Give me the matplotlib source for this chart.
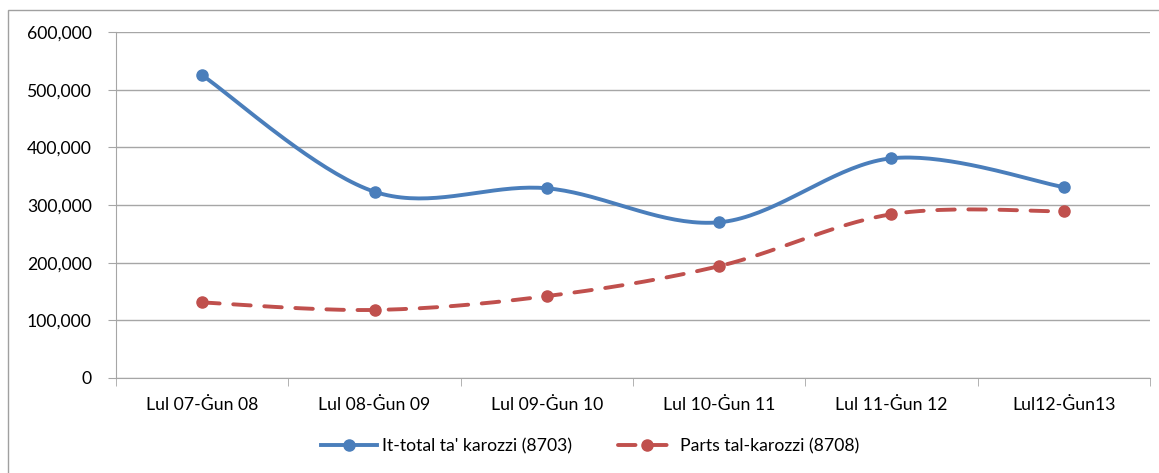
import numpy as np
import matplotlib
matplotlib.use("Agg")
import matplotlib.pyplot as plt
from matplotlib.patches import Rectangle
from matplotlib.ticker import FuncFormatter

plt.rcParams["font.family"] = ["Lato", "DejaVu Sans"]

periods = ["Lul 07-Ġun 08", "Lul 08-Ġun 09", "Lul 09-Ġun 10",
           "Lul 10-Ġun 11", "Lul 11-Ġun 12", "Lul12-Ġun13"]
total_cars = [525000, 323000, 329000, 270000, 381000, 331000]
car_parts = [131000, 118000, 142000, 194000, 284000, 289000]

label_total = "It-total ta' karozzi (8703)"
label_parts = "Parts tal-karozzi (8708)"

BLUE = "#4a7ebb"
RED = "#c0504d"
GRID = "#a6a6a6"


def smooth(xs, ys, n=40):
    # Catmull-Rom style bezier, like Excel's smoothed line
    p = np.column_stack([xs, ys]).astype(float)
    pts = [p[0]]
    for i in range(len(p) - 1):
        p0 = p[i - 1] if i > 0 else p[i]
        p1, p2 = p[i], p[i + 1]
        p3 = p[i + 2] if i + 2 < len(p) else p[i + 1]
        c1 = p1 + (p2 - p0) / 6.0
        c2 = p2 - (p3 - p1) / 6.0
        t = np.linspace(0, 1, n)[1:, None]
        seg = ((1 - t) ** 3) * p1 + 3 * ((1 - t) ** 2) * t * c1 \
            + 3 * (1 - t) * t ** 2 * c2 + t ** 3 * p2
        pts.extend(seg)
    pts = np.array(pts)
    return pts[:, 0], pts[:, 1]


fig = plt.figure(figsize=(11.59, 4.73), dpi=100)
fig.patches.append(Rectangle((8 / 1159, -0.1), 1.2, 1 - 10 / 473 + 0.1,
                             transform=fig.transFigure, fill=False,
                             edgecolor="#a0a0a0", lw=1.0))
ax = fig.add_axes([116 / 1159, 1 - 378 / 473, 1034 / 1159, 346 / 473])

x = np.arange(len(periods))

sx, sy = smooth(x, total_cars)
ax.plot(sx, sy, color=BLUE, lw=2.8, solid_capstyle="round", zorder=3)
ax.plot(x, total_cars, "o", color=BLUE, ms=8, zorder=4)

sx, sy = smooth(x, car_parts)
ax.plot(sx, sy, color=RED, lw=2.8, dashes=(4.5, 3.5),
        dash_capstyle="round", zorder=3)
ax.plot(x, car_parts, "o", color=RED, ms=8, zorder=4)

# legend handles
ax.plot([], [], color=BLUE, lw=2.8, marker="o", ms=8, label=label_total)
ax.plot([], [], color=RED, lw=2.8, marker="o", ms=8, dashes=(4.5, 3.5),
        dash_capstyle="round", label=label_parts)

ax.set_xlim(-0.5, len(periods) - 0.5)
ax.set_ylim(0, 600000)
ax.set_yticks(np.arange(0, 600001, 100000))
ax.yaxis.set_major_formatter(FuncFormatter(lambda v, _: f"{int(v):,}"))
ax.set_xticks(x)
ax.set_xticklabels(periods)
ax.set_xticks(np.arange(-0.5, len(periods)), minor=True)
ax.tick_params(axis="x", which="major", length=0, pad=14, labelsize=12.7)
ax.tick_params(axis="x", which="minor", length=5.5, color=GRID, direction="out")
ax.tick_params(axis="y", length=5.5, color=GRID, labelsize=12.7, pad=12)

ax.grid(axis="y", color=GRID, lw=1.0)
ax.set_axisbelow(True)
for s in ["top", "right"]:
    ax.spines[s].set_visible(False)
for s in ["left", "bottom"]:
    ax.spines[s].set_color(GRID)

handles, labels = ax.get_legend_handles_labels()
fig.legend(handles, labels, loc="center", bbox_to_anchor=(590 / 1159, 1 - 446 / 473),
           ncol=2, frameon=False, fontsize=12.7, handlelength=3.2,
           columnspacing=2.6, handletextpad=0.3)

fig.savefig("out.png", dpi=100)
